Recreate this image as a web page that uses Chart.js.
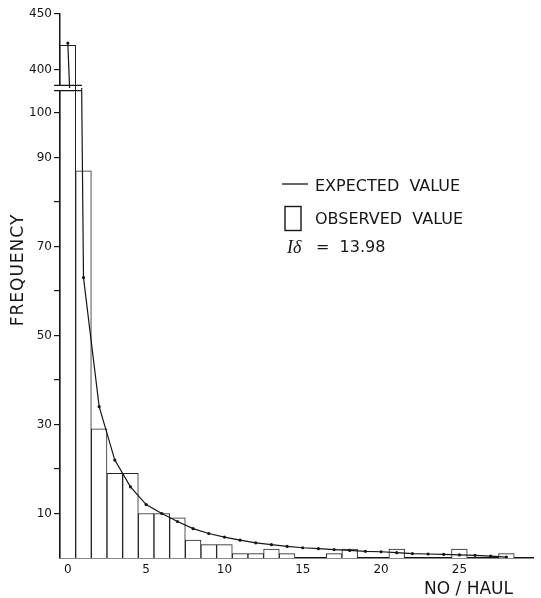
<!DOCTYPE html>
<html>
<head>
<meta charset="utf-8">
<script src="https://cdn.jsdelivr.net/npm/chart.js@4.4.1/dist/chart.umd.min.js"></script>
<style>
  body { margin: 0; background: #fff; }
  #wrap { width: 541px; height: 598px; position: relative; }
</style>
</head>
<body>
<div id="wrap"><canvas id="haulGraph"></canvas></div>
<script>
// counts per haul
var noPerHaul = [0, 1, 2, 3, 4, 5, 6, 7, 8, 9, 10, 11, 12, 13, 14, 15, 16, 17, 18, 19, 20, 21, 22, 23, 24, 25, 26, 27, 28];
var observedFreq = [422, 87, 29, 19, 19, 10, 10, 9, 4, 3, 3, 1, 1, 2, 1, 0, 0, 1, 2, 0, 0, 2, 0, 0, 0, 2, 0, 0, 1];
var expectedFreq = [424, 63, 34, 22, 16, 12, 10, 8.2, 6.6, 5.5, 4.7, 4.0, 3.4, 3.0, 2.6, 2.3, 2.1, 1.9, 1.7, 1.5, 1.4, 1.2, 1.0, 0.9, 0.8, 0.7, 0.6, 0.4, 0.2];

var xTicks = [0, 5, 10, 15, 20, 25];
var lowTicks = [10, 20, 30, 40, 50, 60, 70, 80, 90, 100];
var lowLabels = [10, 30, 50, 70, 90, 100];
var highTicks = [400, 450];

// the y axis is broken between these two values
var lowMax = 105.6;
var highMin = 383.7;
var highMax = 450;

var indexValue = '13.98';

function points(vals, keep) {
    var out = [];
    for (var i = 0; i < noPerHaul.length; i++) {
        var v = vals[i];
        if (keep && !keep(v)) v = null;
        out.push({x: noPerHaul[i], y: v});
    }
    return out;
}

function fixTicks(list) {
    return function(scale) {
        scale.ticks = list.map(function(v) { return {value: v}; });
    };
}

var ink = '#161616';
var tickFont = {family: 'DejaVu Sans', size: 12};

// keep each dataset inside the part of the broken axis it belongs to
var clipToAxis = {
    id: 'clipToAxis',
    beforeDatasetDraw: function(chart, args) {
        var ys = chart.scales[args.meta.yAxisID];
        var ctx = chart.ctx;
        ctx.save();
        ctx.beginPath();
        ctx.rect(0, ys.top, chart.width, ys.bottom - ys.top);
        ctx.clip();
    },
    afterDatasetDraw: function(chart) {
        chart.ctx.restore();
    }
};

var extras = {
    id: 'extras',
    afterDraw: function(chart) {
        var ctx = chart.ctx;
        var area = chart.chartArea;
        var gapY = chart.scales.yTop.bottom;
        ctx.save();

        // axis break
        ctx.fillStyle = '#fff';
        ctx.fillRect(area.left - 3, gapY - 2, 5, 4);
        ctx.strokeStyle = ink;
        ctx.lineWidth = 1.4;
        ctx.beginPath();
        ctx.moveTo(area.left - 6, gapY - 2.6);
        ctx.lineTo(area.left + 22, gapY - 2.6);
        ctx.moveTo(area.left - 6, gapY + 2.6);
        ctx.lineTo(area.left + 22, gapY + 2.6);
        ctx.stroke();

        // axis titles
        ctx.fillStyle = ink;
        ctx.textBaseline = 'middle';
        ctx.font = '17px "DejaVu Sans"';
        ctx.textAlign = 'right';
        ctx.fillText('NO / HAUL', 513, 590);

        ctx.save();
        ctx.translate(19, 270);
        ctx.rotate(-Math.PI / 2);
        ctx.textAlign = 'center';
        ctx.letterSpacing = '1px';
        ctx.fillText('FREQUENCY', 0, 0);
        ctx.restore();

        // legend
        ctx.lineWidth = 1.3;
        ctx.beginPath();
        ctx.moveTo(282, 184);
        ctx.lineTo(308, 184);
        ctx.stroke();
        ctx.lineWidth = 1.4;
        ctx.strokeRect(285, 206.5, 16, 24);

        ctx.textAlign = 'left';
        ctx.font = '16px "DejaVu Sans"';
        ctx.fillText('EXPECTED  VALUE', 315, 187);
        ctx.fillText('OBSERVED  VALUE', 315, 220);
        ctx.font = 'italic 18px "Liberation Serif"';
        ctx.fillText('I\u03B4', 287, 248);
        ctx.font = '16px "DejaVu Sans"';
        ctx.fillText('=  ' + indexValue, 316, 248);

        ctx.restore();
    }
};

var lineStyle = {
    type: 'line',
    borderColor: ink,
    borderWidth: 1.2,
    pointRadius: 1.6,
    pointBackgroundColor: ink,
    pointBorderWidth: 0,
    tension: 0
};

var barStyle = {
    type: 'bar',
    backgroundColor: '#fff',
    borderColor: '#222',
    borderWidth: 1,
    barPercentage: 1,
    categoryPercentage: 1,
    grouped: false
};

var haulConfig = {
    data: {
        datasets: [
            Object.assign({label: 'Expected value', data: points(expectedFreq), yAxisID: 'y'}, lineStyle),
            Object.assign({label: 'Expected value', data: points(expectedFreq), yAxisID: 'yTop'}, lineStyle),
            Object.assign({label: 'Observed value', data: points(observedFreq), yAxisID: 'y'}, barStyle),
            Object.assign({label: 'Observed value', data: points(observedFreq, function(v) { return v > highMin; }), yAxisID: 'yTop'}, barStyle)
        ]
    },
    options: {
        responsive: true,
        maintainAspectRatio: false,
        animation: false,
        layout: {padding: {top: 14, right: 8, bottom: 0, left: 0}},
        plugins: {
            legend: {display: false},
            tooltip: {enabled: false}
        },
        scales: {
            x: {
                type: 'linear',
                offset: false,
                min: -0.5,
                max: 29.7,
                afterBuildTicks: fixTicks(xTicks),
                afterFit: function(scale) { scale.height = 40; },
                grid: {display: false, drawTicks: false},
                border: {display: true, color: ink, width: 1.5},
                ticks: {color: ink, font: tickFont, padding: 5, maxRotation: 0}
            },
            y: {
                type: 'linear',
                stack: 'freq',
                stackWeight: 470,
                min: 0,
                max: lowMax,
                afterBuildTicks: fixTicks(lowTicks),
                afterFit: function(scale) { scale.width = 60; },
                grid: {display: true, drawOnChartArea: false, drawTicks: true, tickLength: 6, color: ink, lineWidth: 1.2},
                border: {display: true, color: ink, width: 1.5},
                ticks: {
                    color: ink, font: tickFont, padding: 2,
                    callback: function(v) { return lowLabels.indexOf(v) >= 0 ? String(v) : ''; }
                }
            },
            yTop: {
                type: 'linear',
                position: 'left',
                stack: 'freq',
                stackWeight: 74,
                min: highMin,
                max: highMax,
                afterBuildTicks: fixTicks(highTicks),
                afterFit: function(scale) { scale.width = 60; },
                grid: {display: true, drawOnChartArea: false, drawTicks: true, tickLength: 6, color: ink, lineWidth: 1.2},
                border: {display: true, color: ink, width: 1.5},
                ticks: {color: ink, font: tickFont, padding: 2}
            }
        }
    },
    plugins: [clipToAxis, extras]
};

var haulCtx = document.getElementById('haulGraph');
var haulChart = new Chart(haulCtx, haulConfig);
</script>
</body>
</html>
